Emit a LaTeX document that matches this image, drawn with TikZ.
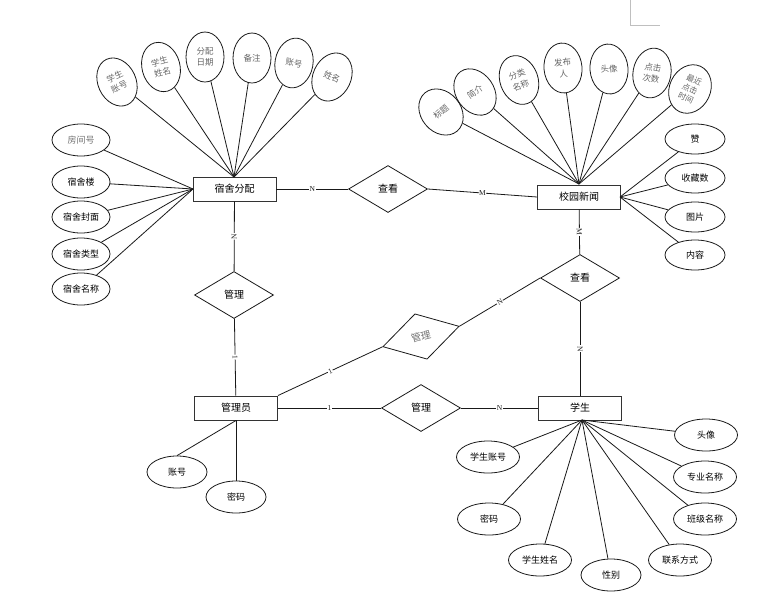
\documentclass[tikz,border=0pt]{standalone}
\usepackage{fontspec}
\setmainfont{Liberation Serif}
\newfontfamily\cjk{Noto Sans CJK SC}
\usetikzlibrary{shapes.geometric}
\begin{document}
\begin{tikzpicture}[x=1pt,y=-1pt,
  ent/.style={draw=black!80, line width=0.95pt, rectangle, minimum width=83pt, minimum height=24pt, inner sep=0pt, font=\cjk\fontsize{10}{12}\selectfont},
  attr/.style={draw=black!90, ellipse, line width=0.8pt, minimum width=60pt, minimum height=32pt, inner sep=0pt, font=\cjk\fontsize{9}{10}\selectfont},
  sattr/.style={attr, minimum width=63pt},
  vattr/.style={attr, minimum width=38pt, minimum height=50pt, align=center, text=black!60, font=\cjk\fontsize{8.5}{11}\selectfont},
  rel/.style={draw=black!90, diamond, line width=0.8pt, minimum width=79pt, minimum height=47pt, inner sep=0pt, font=\cjk\fontsize{10}{12}\selectfont},
  conn/.style={line width=0.8pt, black!90},
  card/.style={fill=white, inner sep=0.6pt, font=\fontsize{7.5}{8}\selectfont}
]
\useasboundingbox (0,0) rectangle (778,598);
\draw[black!25, line width=0.8pt] (630,0) -- (630,25) -- (660,25);

% entities
\node[ent] (sf) at (234.5,189) {宿舍分配};
\node[ent] (news) at (579,197) {校园新闻};
\node[ent] (admin) at (236,408) {管理员};
\node[ent] (stu) at (580,408) {学生};

% relations
\node[rel] (r1) at (388,189) {查看};
\node[rel] (r2) at (580,278) {查看};
\node[rel] (r3) at (234,295) {管理};
\node[rel] (r4) at (421,408) {管理};
\node[rel, rotate=15, text=black!55] (r5) at (421,336.5) {管理};

% relation connectors
\draw[conn] (sf) -- node[card]{N} (r1);
\draw[conn] (r1.east) -- node[card]{M} (news.west);
\draw[conn] (sf) -- node[card, sloped]{N} (r3);
\draw[conn] (r3) -- node[card, sloped]{1} (admin);
\draw[conn] (news) -- node[card, sloped]{M} (r2);
\draw[conn] (r2) -- node[card, sloped]{N} (stu);
\draw[conn] (r2.west) -- node[card, sloped]{N} (r5.east);
\draw[conn] (r5.west) -- node[card, sloped]{1} (admin.north east);
\draw[conn] (admin) -- node[card]{1} (r4);
\draw[conn] (r4) -- node[card]{N} (stu);

% 宿舍分配 attributes
\coordinate (sft) at (234,177);
\coordinate (sfl) at (193,189);
\node[vattr, rotate=25] (a1) at (117,82) {学生\\账号};
\node[vattr, rotate=15] (a2) at (161,67) {学生\\姓名};
\node[vattr] (a3) at (205,57) {分配\\日期};
\node[vattr] (a4) at (252,58) {备注};
\node[vattr, rotate=-10] (a5) at (294,63) {账号};
\node[vattr, rotate=-25] (a6) at (332,77) {姓名};
\foreach \n in {a1,a2,a3,a4,a5,a6} \draw[conn] (\n) -- (sft);
\node[attr, minimum width=58pt, text=black!55, font=\cjk\itshape\fontsize{9}{10}\selectfont] (b1) at (81,140) {房间号};
\node[attr, minimum width=58pt] (b2) at (81,182) {宿舍楼};
\node[attr, minimum width=58pt] (b3) at (81,217) {宿舍封面};
\node[attr, minimum width=58pt] (b4) at (81,254) {宿舍类型};
\node[attr, minimum width=58pt] (b5) at (81,289) {宿舍名称};
\foreach \n in {b1,b2,b3,b4,b5} \draw[conn] (\n) -- (sfl);

% 校园新闻 attributes
\coordinate (nt) at (579,184);
\coordinate (nr) at (620,197);
\node[vattr, rotate=40, minimum width=40pt] (c1) at (441,112) {标题};
\node[vattr, rotate=35] (c2) at (475,92) {简介};
\node[vattr, rotate=20] (c3) at (519,80) {分类\\名称};
\node[vattr, rotate=5] (c4) at (563,68) {发布\\人};
\node[vattr, rotate=5] (c5) at (609,69) {头像};
\node[vattr, rotate=-10] (c6) at (652,73) {点击\\次数};
\node[vattr, rotate=-25, minimum width=41pt, font=\cjk\fontsize{8}{10}\selectfont] (c7) at (690,89) {最近\\点击\\时间};
\foreach \n in {c1,c2,c3,c4,c5,c6,c7} \draw[conn] (\n) -- (nt);
\node[attr, minimum height=30pt] (d1) at (695,139) {赞};
\node[attr, minimum height=30pt] (d2) at (695,178) {收藏数};
\node[attr, minimum height=30pt] (d3) at (695,217) {图片};
\node[attr, minimum height=30pt] (d4) at (695,255) {内容};
\foreach \n in {d1,d2,d3,d4} \draw[conn] (\n) -- (nr);

% 管理员 attributes
\node[attr] (e1) at (177,472) {账号};
\node[attr] (e2) at (236,497) {密码};
\draw[conn] (admin.south) -- (e1.north);
\draw[conn] (admin.south) -- (e2.north);

% 学生 attributes
\coordinate (st) at (582,420);
\node[sattr] (f1) at (706,435) {头像};
\node[sattr] (f2) at (705,477) {专业名称};
\node[sattr] (f3) at (705,519) {班级名称};
\node[sattr] (f4) at (680,560) {联系方式};
\node[sattr, minimum width=60pt] (f5) at (611,575) {性别};
\node[sattr] (f6) at (540,560) {学生姓名};
\node[sattr] (f7) at (489,519) {密码};
\node[sattr] (f8) at (488,457) {学生账号};
\foreach \n in {f1,f2,f3,f4,f5,f6,f7,f8} \draw[conn] (\n) -- (st);
\end{tikzpicture}
\end{document}
